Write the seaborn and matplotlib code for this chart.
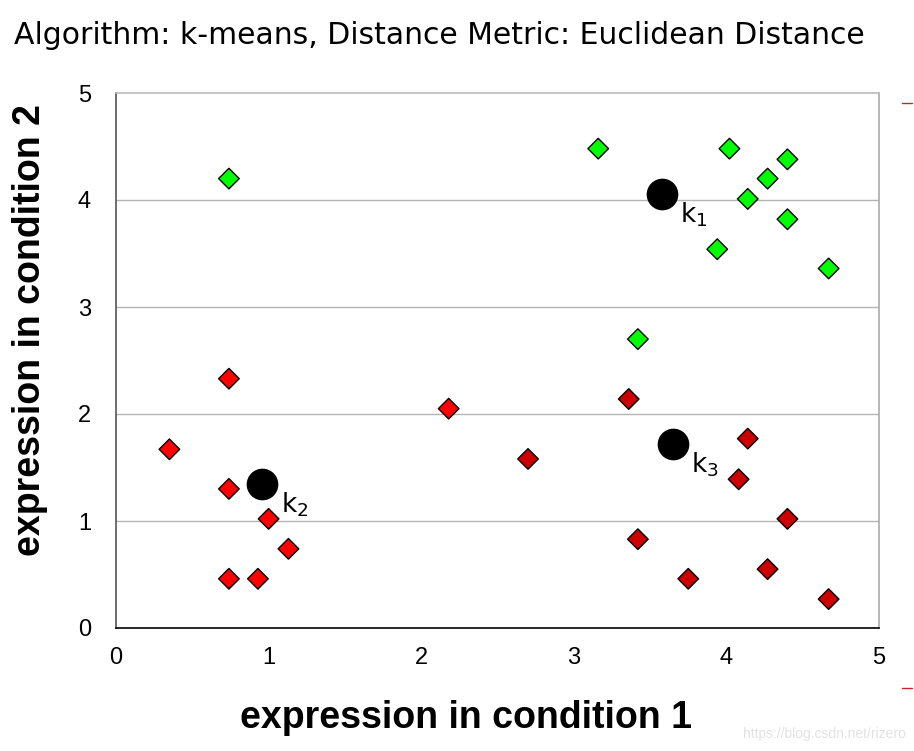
import matplotlib
matplotlib.use("Agg")
import matplotlib.pyplot as plt
from matplotlib.lines import Line2D
import seaborn as sns
import pandas as pd

# ---- data ----
green_x = [3.16, 0.74, 4.02, 4.27, 4.40, 4.14, 4.40, 3.94, 4.67, 3.42]
green_y = [4.48, 4.20, 4.48, 4.20, 4.38, 4.01, 3.82, 3.54, 3.36, 2.70]

red_x = [0.74, 0.35, 0.74, 1.00, 1.13, 0.74, 0.93, 2.18]
red_y = [2.33, 1.67, 1.30, 1.02, 0.74, 0.46, 0.46, 2.05]

dark_x = [2.70, 3.36, 4.14, 4.08, 4.40, 3.42, 3.75, 4.27, 4.67]
dark_y = [1.58, 2.14, 1.77, 1.39, 1.02, 0.83, 0.46, 0.55, 0.27]

centroid_names = ["1", "2", "3"]
centroid_x = [3.58, 0.96, 3.65]
centroid_y = [4.06, 1.35, 1.72]

xticks = [0, 1, 2, 3, 4, 5]
yticks = [0, 1, 2, 3, 4, 5]

df = pd.DataFrame({
    "x": green_x + red_x + dark_x,
    "y": green_y + red_y + dark_y,
    "cluster": ["k1"] * len(green_x) + ["k2"] * len(red_x) + ["k3"] * len(dark_x),
})
cdf = pd.DataFrame({"x": centroid_x, "y": centroid_y, "name": centroid_names})

sns.set_style("white")
plt.rcParams["font.family"] = ["DejaVu Sans"]
plt.rcParams["text.color"] = "black"
plt.rcParams["axes.labelcolor"] = "black"
plt.rcParams["xtick.color"] = "black"
plt.rcParams["ytick.color"] = "black"

fig = plt.figure(figsize=(9.14, 7.51), dpi=100)
ax = fig.add_axes([116 / 914, 1 - 628 / 751, (879 - 116) / 914, (628 - 93) / 751])

for yv in yticks[1:-1]:
    ax.axhline(yv, color="#b4b4b4", lw=1.0, zorder=0)

sns.scatterplot(data=df, x="x", y="y", hue="cluster",
                palette={"k1": "#00ff00", "k2": "#ff0000", "k3": "#cc0000"},
                marker="D", s=110, edgecolor="black", linewidth=1.0,
                legend=False, ax=ax, zorder=3)

sns.scatterplot(data=cdf, x="x", y="y", color="black", s=520,
                edgecolor="black", linewidth=0, legend=False, ax=ax, zorder=4)

for nm, cx, cy in zip(centroid_names, centroid_x, centroid_y):
    ax.annotate("k$_{" + nm + "}$", (cx, cy), xytext=(13, -5),
                textcoords="offset points", ha="left", va="top",
                fontsize=19, color="black", zorder=5)

ax.set_xlim(0, 5)
ax.set_ylim(0, 5)
ax.set_xticks(xticks)
ax.set_yticks(yticks)
ax.set_xticklabels([str(t) for t in xticks], family="Liberation Sans", fontsize=17)
ax.set_yticklabels([str(t) for t in yticks], family="Liberation Sans", fontsize=17)
ax.tick_params(axis="both", direction="out", length=5, width=1, color="#999999",
               labelcolor="black")
ax.tick_params(axis="x", pad=9)
ax.tick_params(axis="y", pad=13)

ax.spines["left"].set_color("#555555")
ax.spines["bottom"].set_color("black")
ax.spines["right"].set_color("#aaaaaa")
ax.spines["top"].set_color("#bbbbbb")
for s in ax.spines.values():
    s.set_linewidth(1.2)
    s.set_visible(True)

ax.set_xlabel("expression in condition 1", family="Liberation Sans",
              fontweight="bold", fontsize=27, color="black")
ax.set_ylabel("expression in condition 2", family="Liberation Sans",
              fontweight="bold", fontsize=27, color="black")
ax.xaxis.set_label_coords((466 - 116) / 763, (628 - 718) / 535)
ax.yaxis.set_label_coords((30 - 116) / 763, (628 - 330) / 535)
ax.xaxis.label.set_va("center")
ax.yaxis.label.set_va("center")

fig.text(14 / 914, 1 - 36 / 751, "Algorithm: k-means, Distance Metric: Euclidean Distance",
         fontsize=21.5, ha="left", va="center", color="black")

fig.text(906 / 914, 1 - 734 / 751, "https://blog.csdn.net/rizero",
         family="Liberation Sans", fontsize=10, color="#e2e2e2", ha="right", va="center")

fig.add_artist(Line2D([902 / 914, 912 / 914], [1 - 103 / 751, 1 - 103 / 751],
                      color="#cc2222", lw=1, transform=fig.transFigure))
fig.add_artist(Line2D([902 / 914, 912 / 914], [1 - 688 / 751, 1 - 688 / 751],
                      color="#cc2222", lw=1, transform=fig.transFigure))

fig.savefig("out.png", dpi=100)
